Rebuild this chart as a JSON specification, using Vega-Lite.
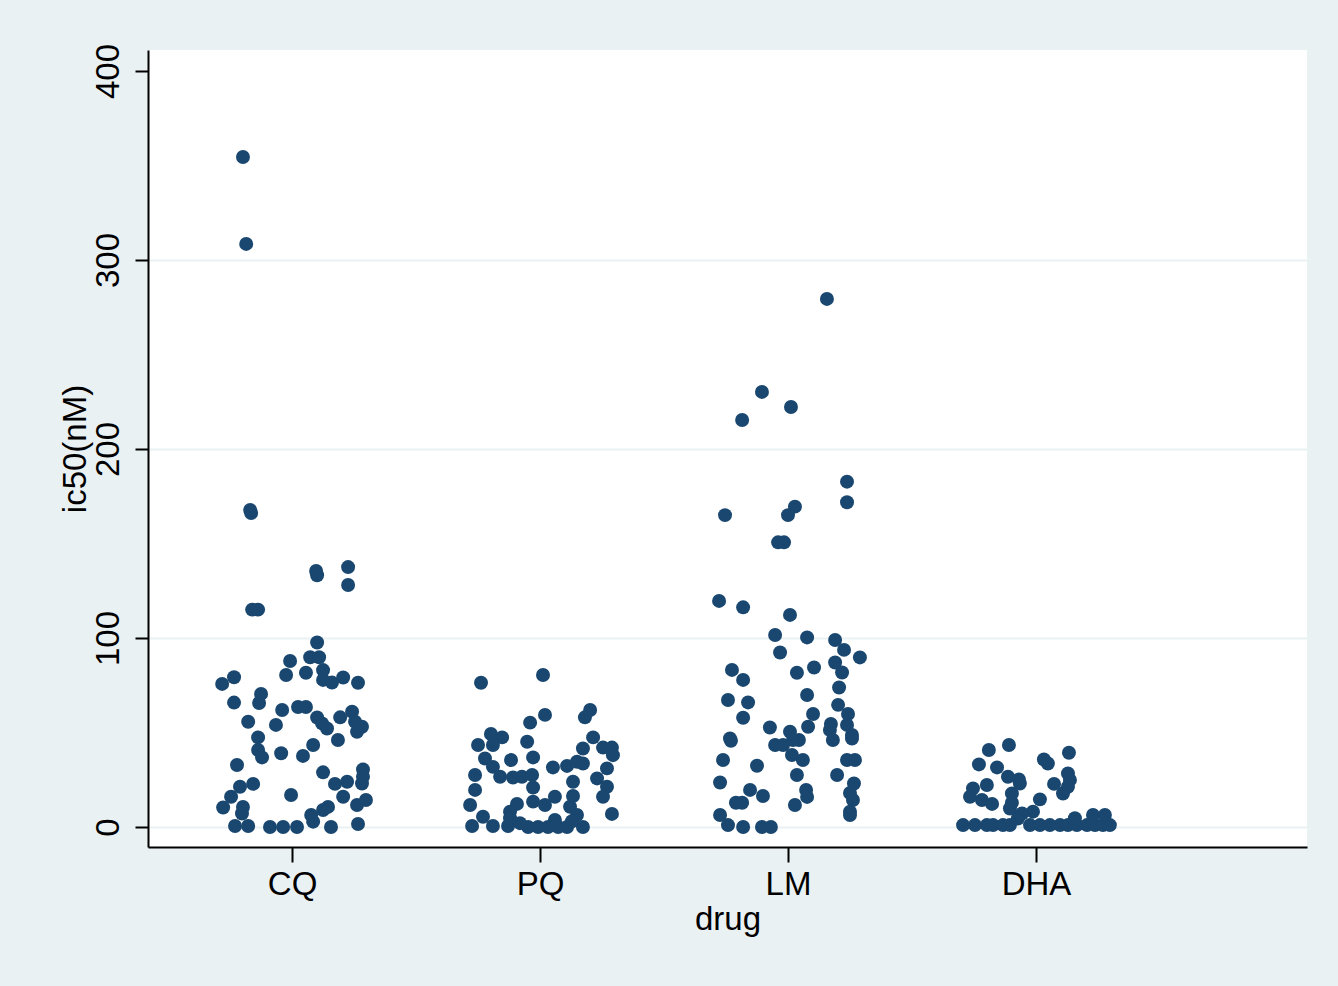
{
  "$schema": "https://vega.github.io/schema/vega-lite/v6.json",
  "width": 1159,
  "height": 797,
  "autosize": {"type": "none"},
  "padding": {"left": 148, "top": 50, "right": 31, "bottom": 139},
  "background": "#EAF1F3",
  "config": {"view": {"fill": "white", "stroke": null}, "font": "Liberation Sans"},
  "data": {"values": [
    {"drug":"CQ","x":0.802,"ic50":354.5},{"drug":"CQ","x":0.815,"ic50":308.5},{"drug":"CQ","x":0.831,"ic50":167.7},{"drug":"CQ","x":0.835,"ic50":166.1},
    {"drug":"CQ","x":0.839,"ic50":115},{"drug":"CQ","x":0.863,"ic50":115},{"drug":"CQ","x":1.097,"ic50":135.5},{"drug":"CQ","x":1.101,"ic50":133.2},
    {"drug":"CQ","x":1.226,"ic50":137.5},{"drug":"CQ","x":1.226,"ic50":128},{"drug":"CQ","x":1.101,"ic50":97.6},{"drug":"CQ","x":1.073,"ic50":89.8},
    {"drug":"CQ","x":1.109,"ic50":89.8},{"drug":"CQ","x":0.992,"ic50":87.8},{"drug":"CQ","x":0.976,"ic50":80.4},{"drug":"CQ","x":1.056,"ic50":81.6},
    {"drug":"CQ","x":0.766,"ic50":79.2},{"drug":"CQ","x":0.718,"ic50":75.7},{"drug":"CQ","x":1.125,"ic50":83},{"drug":"CQ","x":1.125,"ic50":77.8},
    {"drug":"CQ","x":1.161,"ic50":76.4},{"drug":"CQ","x":1.206,"ic50":79.1},{"drug":"CQ","x":1.266,"ic50":76.3},{"drug":"CQ","x":0.875,"ic50":70.4},
    {"drug":"CQ","x":0.867,"ic50":65.6},{"drug":"CQ","x":0.766,"ic50":65.8},{"drug":"CQ","x":0.96,"ic50":61.9},{"drug":"CQ","x":1.024,"ic50":63.5},
    {"drug":"CQ","x":1.056,"ic50":63.5},{"drug":"CQ","x":0.823,"ic50":55.7},{"drug":"CQ","x":0.935,"ic50":54},{"drug":"CQ","x":1.101,"ic50":57.9},
    {"drug":"CQ","x":1.121,"ic50":54.8},{"drug":"CQ","x":1.141,"ic50":52.1},{"drug":"CQ","x":1.194,"ic50":58},{"drug":"CQ","x":1.242,"ic50":61},
    {"drug":"CQ","x":1.254,"ic50":55.7},{"drug":"CQ","x":1.282,"ic50":53},{"drug":"CQ","x":1.262,"ic50":50.4},{"drug":"CQ","x":0.863,"ic50":47.4},
    {"drug":"CQ","x":1.185,"ic50":46},{"drug":"CQ","x":0.863,"ic50":40.7},{"drug":"CQ","x":0.879,"ic50":36.8},{"drug":"CQ","x":0.956,"ic50":39},
    {"drug":"CQ","x":1.085,"ic50":43.4},{"drug":"CQ","x":1.044,"ic50":37.6},{"drug":"CQ","x":0.778,"ic50":32.8},{"drug":"CQ","x":1.125,"ic50":28.9},
    {"drug":"CQ","x":1.286,"ic50":30.4},{"drug":"CQ","x":1.286,"ic50":26.6},{"drug":"CQ","x":1.282,"ic50":23},{"drug":"CQ","x":0.79,"ic50":21.3},
    {"drug":"CQ","x":0.843,"ic50":22.8},{"drug":"CQ","x":0.754,"ic50":16},{"drug":"CQ","x":0.722,"ic50":10.3},{"drug":"CQ","x":0.802,"ic50":10.6},
    {"drug":"CQ","x":0.798,"ic50":7.1},{"drug":"CQ","x":0.996,"ic50":16.9},{"drug":"CQ","x":1.173,"ic50":22.8},{"drug":"CQ","x":1.222,"ic50":23.9},
    {"drug":"CQ","x":1.206,"ic50":16},{"drug":"CQ","x":1.262,"ic50":11.6},{"drug":"CQ","x":1.298,"ic50":14.3},{"drug":"CQ","x":1.125,"ic50":9},
    {"drug":"CQ","x":1.145,"ic50":10.6},{"drug":"CQ","x":1.077,"ic50":6.3},{"drug":"CQ","x":1.085,"ic50":2.8},{"drug":"CQ","x":0.77,"ic50":0.5},
    {"drug":"CQ","x":0.823,"ic50":0.5},{"drug":"CQ","x":0.911,"ic50":0},{"drug":"CQ","x":0.964,"ic50":0},{"drug":"CQ","x":1.02,"ic50":0},
    {"drug":"CQ","x":1.157,"ic50":0},{"drug":"CQ","x":1.266,"ic50":1.6},
    {"drug":"PQ","x":1.762,"ic50":76.3},{"drug":"PQ","x":2.012,"ic50":80.4},{"drug":"PQ","x":2.02,"ic50":59.3},{"drug":"PQ","x":1.96,"ic50":55.2},
    {"drug":"PQ","x":2.202,"ic50":61.9},{"drug":"PQ","x":2.181,"ic50":58},{"drug":"PQ","x":1.802,"ic50":49.2},{"drug":"PQ","x":1.847,"ic50":47.4},
    {"drug":"PQ","x":1.75,"ic50":43.4},{"drug":"PQ","x":1.81,"ic50":43.4},{"drug":"PQ","x":1.948,"ic50":45.1},{"drug":"PQ","x":2.214,"ic50":47.4},
    {"drug":"PQ","x":2.173,"ic50":41.5},{"drug":"PQ","x":2.254,"ic50":42},{"drug":"PQ","x":2.29,"ic50":42},{"drug":"PQ","x":2.294,"ic50":38},
    {"drug":"PQ","x":1.778,"ic50":36.2},{"drug":"PQ","x":1.883,"ic50":35.4},{"drug":"PQ","x":1.972,"ic50":36.8},{"drug":"PQ","x":1.81,"ic50":31.8},
    {"drug":"PQ","x":2.052,"ic50":31.5},{"drug":"PQ","x":2.109,"ic50":32.3},{"drug":"PQ","x":2.149,"ic50":34.5},{"drug":"PQ","x":2.173,"ic50":33.6},
    {"drug":"PQ","x":2.27,"ic50":31},{"drug":"PQ","x":1.738,"ic50":27.5},{"drug":"PQ","x":1.839,"ic50":26.6},{"drug":"PQ","x":1.891,"ic50":26.2},
    {"drug":"PQ","x":1.927,"ic50":26.6},{"drug":"PQ","x":1.968,"ic50":27.5},{"drug":"PQ","x":2.23,"ic50":25.7},{"drug":"PQ","x":2.133,"ic50":23.9},
    {"drug":"PQ","x":1.972,"ic50":20.9},{"drug":"PQ","x":1.738,"ic50":19.6},{"drug":"PQ","x":2.27,"ic50":21.3},{"drug":"PQ","x":2.254,"ic50":16},
    {"drug":"PQ","x":2.06,"ic50":16},{"drug":"PQ","x":2.133,"ic50":16.4},{"drug":"PQ","x":1.972,"ic50":13.4},{"drug":"PQ","x":2.02,"ic50":11.6},
    {"drug":"PQ","x":1.907,"ic50":12.2},{"drug":"PQ","x":1.718,"ic50":11.6},{"drug":"PQ","x":2.121,"ic50":10.7},{"drug":"PQ","x":2.149,"ic50":6.3},
    {"drug":"PQ","x":1.879,"ic50":8.1},{"drug":"PQ","x":1.879,"ic50":4.6},{"drug":"PQ","x":2.29,"ic50":6.9},{"drug":"PQ","x":1.77,"ic50":5.4},
    {"drug":"PQ","x":1.726,"ic50":0.5},{"drug":"PQ","x":1.81,"ic50":0.5},{"drug":"PQ","x":1.871,"ic50":0.5},{"drug":"PQ","x":1.952,"ic50":0},
    {"drug":"PQ","x":1.992,"ic50":0},{"drug":"PQ","x":2.032,"ic50":0},{"drug":"PQ","x":2.073,"ic50":0},{"drug":"PQ","x":2.109,"ic50":0},
    {"drug":"PQ","x":2.173,"ic50":0},{"drug":"PQ","x":2.06,"ic50":3.7},{"drug":"PQ","x":1.919,"ic50":2},{"drug":"PQ","x":2.129,"ic50":3},
    {"drug":"LM","x":3.157,"ic50":279.4},{"drug":"LM","x":2.895,"ic50":230.2},{"drug":"LM","x":2.815,"ic50":215.3},{"drug":"LM","x":3.012,"ic50":222.2},
    {"drug":"LM","x":3.238,"ic50":182.7},{"drug":"LM","x":3.238,"ic50":171.8},{"drug":"LM","x":2.746,"ic50":165},{"drug":"LM","x":3.028,"ic50":169.5},
    {"drug":"LM","x":3.0,"ic50":165},{"drug":"LM","x":2.96,"ic50":150.6},{"drug":"LM","x":2.984,"ic50":150.6},{"drug":"LM","x":2.722,"ic50":119.6},
    {"drug":"LM","x":2.819,"ic50":116.2},{"drug":"LM","x":3.008,"ic50":112.2},{"drug":"LM","x":2.948,"ic50":101.6},{"drug":"LM","x":3.077,"ic50":100.3},
    {"drug":"LM","x":3.19,"ic50":98.9},{"drug":"LM","x":3.226,"ic50":93.7},{"drug":"LM","x":3.29,"ic50":89.7},{"drug":"LM","x":2.968,"ic50":92.3},
    {"drug":"LM","x":3.19,"ic50":87},{"drug":"LM","x":3.218,"ic50":81.7},{"drug":"LM","x":2.774,"ic50":83.1},{"drug":"LM","x":3.036,"ic50":81.6},
    {"drug":"LM","x":3.105,"ic50":84.4},{"drug":"LM","x":2.819,"ic50":77.8},{"drug":"LM","x":2.758,"ic50":67.2},{"drug":"LM","x":2.839,"ic50":65.9},
    {"drug":"LM","x":3.077,"ic50":69.8},{"drug":"LM","x":3.206,"ic50":73.8},{"drug":"LM","x":3.202,"ic50":64.6},{"drug":"LM","x":3.101,"ic50":59.8},
    {"drug":"LM","x":3.242,"ic50":59.8},{"drug":"LM","x":2.819,"ic50":57.8},{"drug":"LM","x":3.081,"ic50":53},{"drug":"LM","x":3.238,"ic50":54},
    {"drug":"LM","x":2.927,"ic50":52.6},{"drug":"LM","x":3.173,"ic50":54.5},{"drug":"LM","x":3.169,"ic50":51.3},{"drug":"LM","x":3.181,"ic50":46},
    {"drug":"LM","x":3.258,"ic50":48.7},{"drug":"LM","x":3.258,"ic50":46.8},{"drug":"LM","x":3.008,"ic50":50.4},{"drug":"LM","x":3.044,"ic50":46},
    {"drug":"LM","x":3.02,"ic50":46},{"drug":"LM","x":2.766,"ic50":46.8},{"drug":"LM","x":2.77,"ic50":45.6},{"drug":"LM","x":2.948,"ic50":43.4},
    {"drug":"LM","x":2.98,"ic50":43.4},{"drug":"LM","x":3.016,"ic50":38.1},{"drug":"LM","x":3.06,"ic50":35.4},{"drug":"LM","x":3.238,"ic50":35.4},
    {"drug":"LM","x":3.27,"ic50":35.4},{"drug":"LM","x":2.738,"ic50":35.4},{"drug":"LM","x":2.875,"ic50":32.4},{"drug":"LM","x":3.036,"ic50":27.5},
    {"drug":"LM","x":3.198,"ic50":27.5},{"drug":"LM","x":3.266,"ic50":23},{"drug":"LM","x":3.25,"ic50":18},{"drug":"LM","x":3.262,"ic50":14.3},
    {"drug":"LM","x":2.726,"ic50":23.5},{"drug":"LM","x":2.847,"ic50":19.6},{"drug":"LM","x":2.899,"ic50":16.4},{"drug":"LM","x":2.79,"ic50":12.8},
    {"drug":"LM","x":2.815,"ic50":12.8},{"drug":"LM","x":3.073,"ic50":19.6},{"drug":"LM","x":3.077,"ic50":15.9},{"drug":"LM","x":3.028,"ic50":11.6},
    {"drug":"LM","x":3.25,"ic50":8.1},{"drug":"LM","x":3.25,"ic50":6.3},{"drug":"LM","x":2.726,"ic50":6.3},{"drug":"LM","x":2.758,"ic50":1},
    {"drug":"LM","x":2.819,"ic50":0},{"drug":"LM","x":2.895,"ic50":0},{"drug":"LM","x":2.931,"ic50":0},
    {"drug":"DHA","x":3.891,"ic50":43.4},{"drug":"DHA","x":3.81,"ic50":40.7},{"drug":"DHA","x":4.133,"ic50":39.3},{"drug":"DHA","x":3.77,"ic50":33.1},
    {"drug":"DHA","x":3.843,"ic50":31.5},{"drug":"DHA","x":4.032,"ic50":35.7},{"drug":"DHA","x":4.048,"ic50":33.6},{"drug":"DHA","x":3.887,"ic50":26.6},
    {"drug":"DHA","x":3.931,"ic50":25.1},{"drug":"DHA","x":3.935,"ic50":23},{"drug":"DHA","x":4.129,"ic50":28.3},{"drug":"DHA","x":4.137,"ic50":24.9},
    {"drug":"DHA","x":4.129,"ic50":21.3},{"drug":"DHA","x":4.109,"ic50":17.7},{"drug":"DHA","x":4.073,"ic50":22.8},{"drug":"DHA","x":3.746,"ic50":20.4},
    {"drug":"DHA","x":3.802,"ic50":22.2},{"drug":"DHA","x":3.734,"ic50":16},{"drug":"DHA","x":3.782,"ic50":14.3},{"drug":"DHA","x":3.823,"ic50":12.2},
    {"drug":"DHA","x":3.903,"ic50":17.7},{"drug":"DHA","x":3.903,"ic50":12.8},{"drug":"DHA","x":4.016,"ic50":14.6},{"drug":"DHA","x":3.988,"ic50":8.1},
    {"drug":"DHA","x":3.944,"ic50":7.1},{"drug":"DHA","x":3.927,"ic50":4.5},{"drug":"DHA","x":3.895,"ic50":9.8},{"drug":"DHA","x":3.706,"ic50":1},
    {"drug":"DHA","x":3.754,"ic50":1},{"drug":"DHA","x":3.802,"ic50":1},{"drug":"DHA","x":3.827,"ic50":1},{"drug":"DHA","x":3.867,"ic50":1},
    {"drug":"DHA","x":3.895,"ic50":1},{"drug":"DHA","x":3.976,"ic50":1},{"drug":"DHA","x":4.016,"ic50":1},{"drug":"DHA","x":4.056,"ic50":1},
    {"drug":"DHA","x":4.097,"ic50":1},{"drug":"DHA","x":4.129,"ic50":1},{"drug":"DHA","x":4.165,"ic50":1},{"drug":"DHA","x":4.206,"ic50":1},
    {"drug":"DHA","x":4.238,"ic50":1},{"drug":"DHA","x":4.27,"ic50":1},{"drug":"DHA","x":4.298,"ic50":1},{"drug":"DHA","x":4.157,"ic50":4.6},
    {"drug":"DHA","x":4.23,"ic50":6.3},{"drug":"DHA","x":4.278,"ic50":6.3}
  ]},
  "mark": {"type": "circle", "size": 195, "opacity": 1, "color": "#1A476F"},
  "encoding": {
    "x": {
      "field": "x", "type": "quantitative",
      "scale": {"domain": [0.419, 5.093], "nice": false, "zero": false},
      "axis": {
        "values": [1, 2, 3, 4],
        "labelExpr": "['', 'CQ', 'PQ', 'LM', 'DHA'][datum.value]",
        "title": "drug", "grid": false,
        "domainColor": "black", "domainWidth": 2,
        "tickColor": "black", "tickWidth": 2, "tickSize": 15,
        "labelFontSize": 33, "labelColor": "black", "labelPadding": 6,
        "titleFontSize": 33, "titleFontWeight": "normal", "titleColor": "black", "titlePadding": 2
      }
    },
    "y": {
      "field": "ic50", "type": "quantitative",
      "scale": {"domain": [-10.6, 411.1], "nice": false, "zero": false},
      "axis": {
        "values": [0, 100, 200, 300, 400],
        "title": "ic50(nM)", "grid": true,
        "gridColor": "#EAF1F3", "gridWidth": 2,
        "gridOpacity": {"condition": {"test": "datum.value == 400", "value": 0}, "value": 1},
        "domainColor": "black", "domainWidth": 2,
        "tickColor": "black", "tickWidth": 2, "tickSize": 13,
        "labelAngle": 270, "labelFontSize": 33, "labelColor": "black", "labelPadding": 10,
        "titleFontSize": 33, "titleFontWeight": "normal", "titleColor": "black", "titlePadding": 0
      }
    }
  }
}
